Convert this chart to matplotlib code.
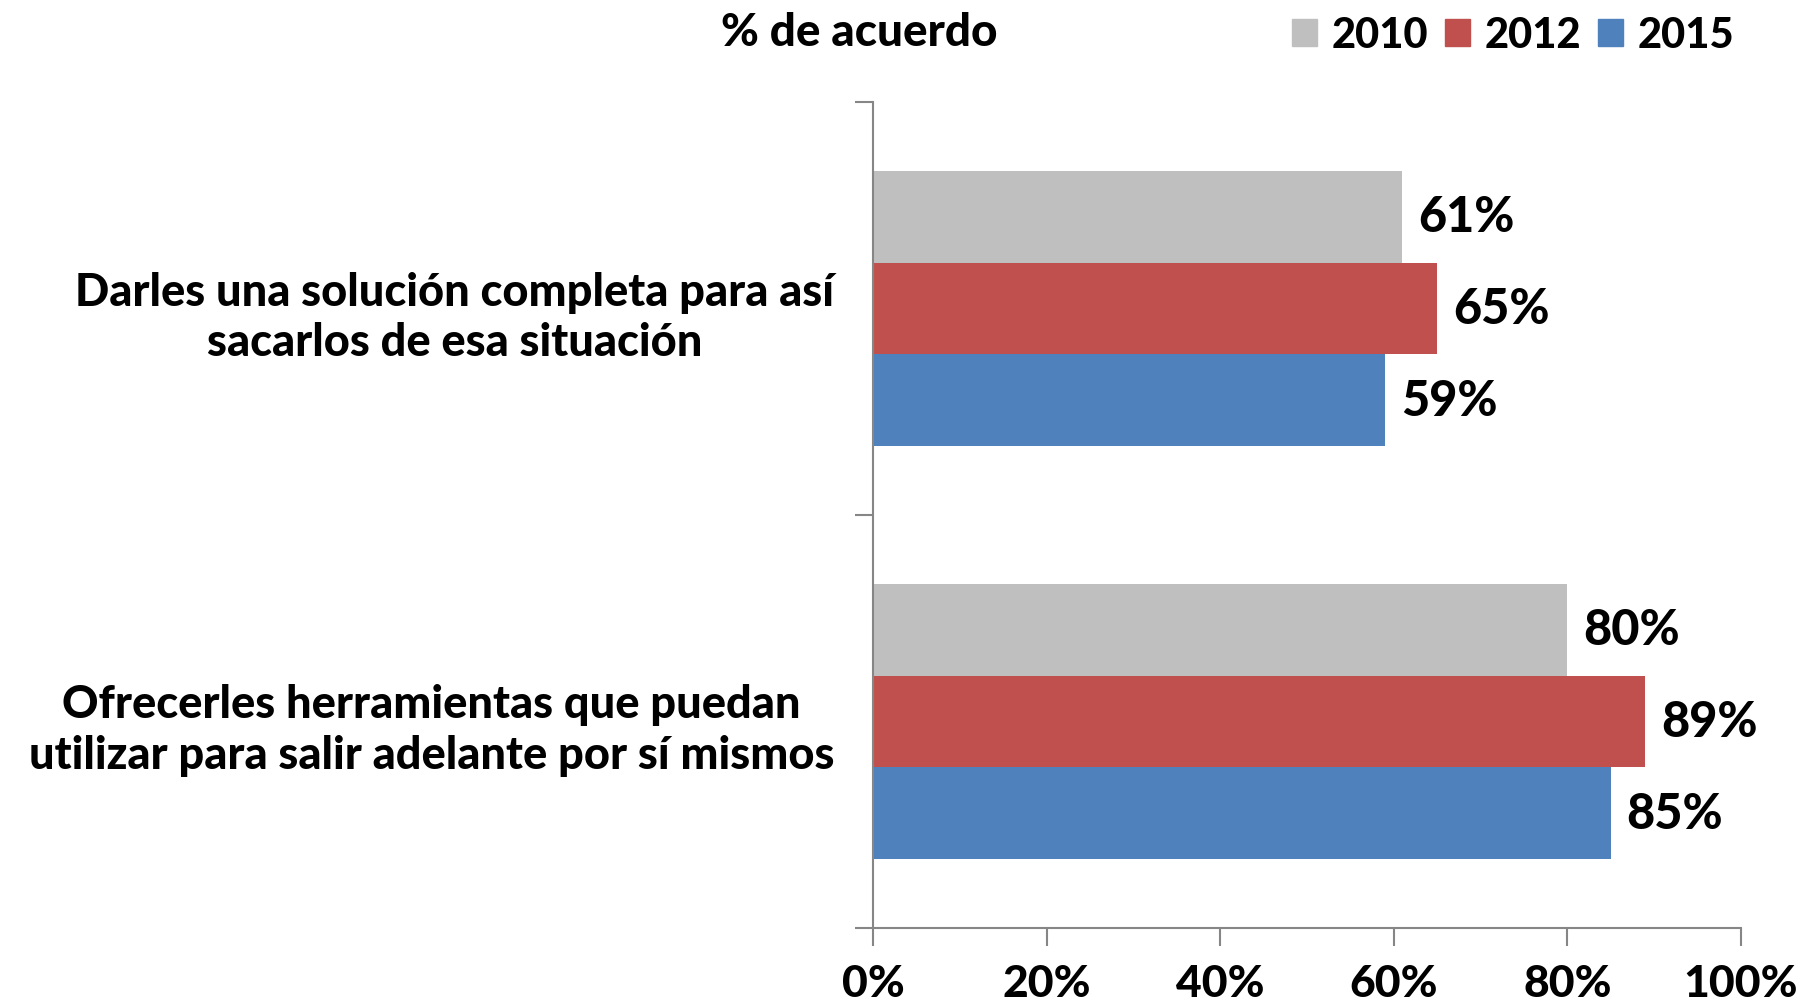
import matplotlib.pyplot as plt
from matplotlib.patches import Patch
from matplotlib.ticker import FuncFormatter, FixedLocator

categories = ['Darles una solución completa para así\nsacarlos de esa situación',
              'Ofrecerles herramientas que puedan\nutilizar para salir adelante por sí mismos']
years = ['2010', '2012', '2015']
v2010 = [0.61, 0.80]
v2012 = [0.65, 0.89]
v2015 = [0.59, 0.85]
colors = ['#BFBFBF', '#C0504D', '#4F81BD']

plt.rcParams['font.family'] = ['Lato', 'DejaVu Sans']
W = 'black'

fig = plt.figure(figsize=(18.05, 10.03), dpi=100)
ax = fig.add_axes([0.4837, 0.0738, 0.4808, 0.8235])

h = 0.222
ypos = list(range(len(categories)))
for k, (vals, col) in enumerate(zip([v2010, v2012, v2015], colors)):
    off = (k - 1) * h
    ax.barh([y + off for y in ypos], vals, height=h, color=col, zorder=2)
    for y, v in zip(ypos, vals):
        ax.text(v + 0.018, y + off, f'{round(v * 100):d}%', va='center', ha='left',
                fontsize=35, fontweight=W)

ax.set_xlim(0, 1)
ax.set_ylim(1.5, -0.5)
ax.xaxis.set_major_locator(FixedLocator([0, 0.2, 0.4, 0.6, 0.8, 1.0]))
ax.xaxis.set_major_formatter(FuncFormatter(lambda x, p: f'{round(x * 100):d}%'))
ax.yaxis.set_major_locator(FixedLocator([-0.5, 0.5, 1.5]))
ax.yaxis.set_major_formatter(FuncFormatter(lambda x, p: ''))
ax.yaxis.set_minor_locator(FixedLocator(ypos))
ax.set_yticklabels(categories, minor=True, multialignment='center', linespacing=1.25)

axc = '#868686'
for s in ['top', 'right']:
    ax.spines[s].set_visible(False)
for s in ['left', 'bottom']:
    ax.spines[s].set_color(axc)
    ax.spines[s].set_linewidth(1.5)
ax.tick_params(axis='x', which='major', length=13, width=1.5, color=axc, pad=12,
               labelsize=32)
ax.tick_params(axis='y', which='major', length=13, width=1.5, color=axc)
ax.tick_params(axis='y', which='minor', length=0, pad=28, labelsize=32.5)
for lab in ax.get_xticklabels() + ax.get_yticklabels(minor=True):
    lab.set_fontweight(W)

fig.text(859 / 1805, 1 - 33 / 1003, '% de acuerdo', ha='center', va='center',
         fontsize=33, fontweight=W)

handles = [Patch(color=c, label=y) for c, y in zip(colors, years)]
fig.legend(handles=handles, loc='center right', bbox_to_anchor=(1734 / 1805, 1 - 36 / 1003),
           ncol=3, frameon=False, handlelength=0.6, handleheight=0.6,
           handletextpad=0.35, columnspacing=0.4, borderaxespad=0, borderpad=0,
           prop={'weight': W, 'size': 30})

fig.savefig('out.png', dpi=100)
